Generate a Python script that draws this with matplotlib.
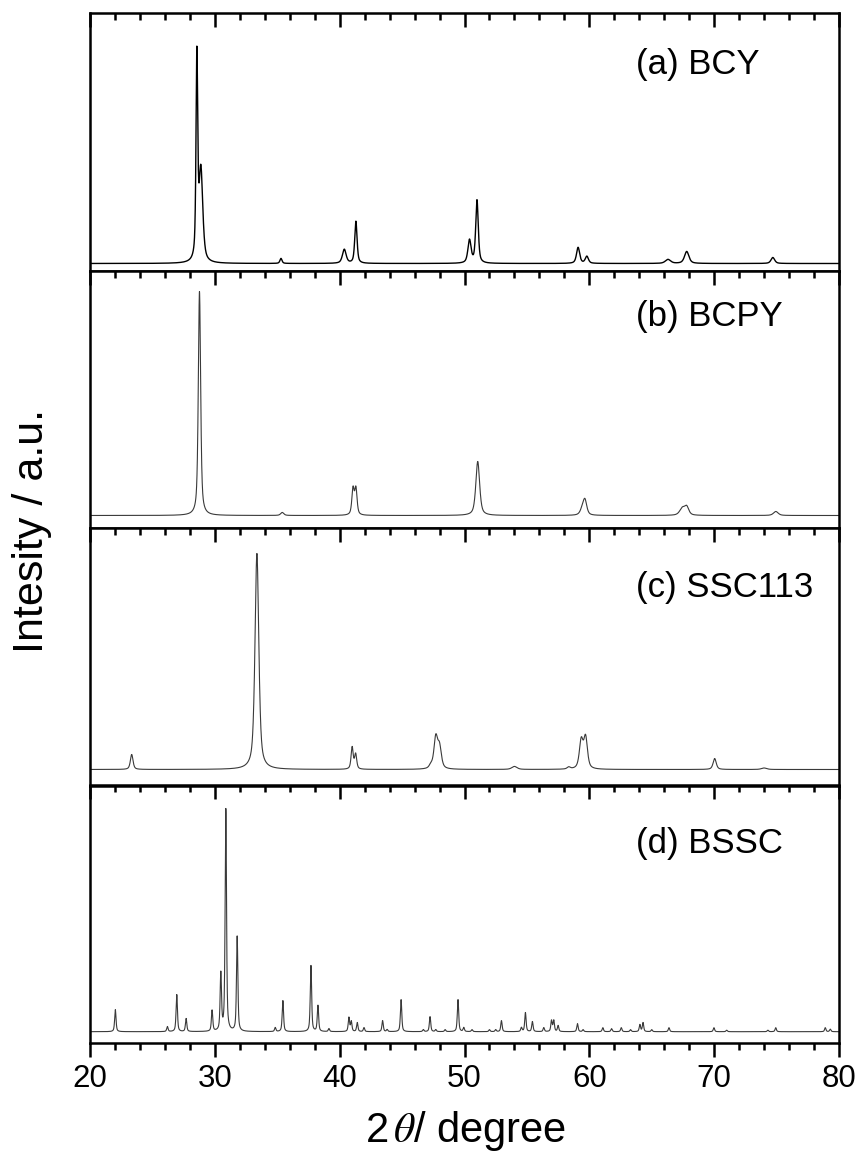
import numpy as np
import matplotlib
matplotlib.use("Agg")
from matplotlib import pyplot as plt
from matplotlib.ticker import MultipleLocator

plt.rcParams["font.family"] = ["Liberation Sans", "DejaVu Sans"]
plt.rcParams["mathtext.fontset"] = "stix"

# Peak lists: 2theta (deg), height (a.u.), FWHM (deg)
bcy_pos = [28.56, 28.88, 35.30, 40.37, 41.30, 50.40, 51.00, 59.10, 59.80, 66.30, 67.80, 74.70]
bcy_h = [200, 92, 5, 14, 42, 23, 63, 16, 7, 4, 12, 6]
bcy_w = [0.16, 0.36, 0.20, 0.35, 0.22, 0.30, 0.24, 0.30, 0.30, 0.50, 0.42, 0.35]

bcpy_pos = [28.77, 35.40, 41.07, 41.30, 51.06, 59.45, 59.65, 67.45, 67.80, 74.94]
bcpy_h = [224, 3, 26, 26, 54, 6, 14, 7, 8, 4]
bcpy_w = [0.22, 0.30, 0.22, 0.22, 0.36, 0.40, 0.35, 0.50, 0.40, 0.45]

ssc_pos = [23.34, 33.37, 41.00, 41.28, 47.30, 47.70, 48.00, 54.00, 58.35, 59.35, 59.70, 70.04, 74.00]
ssc_h = [15, 216, 22, 15, 3, 31, 21, 3, 2, 28, 31, 11, 1.5]
ssc_w = [0.25, 0.36, 0.20, 0.20, 0.30, 0.35, 0.35, 0.50, 0.30, 0.35, 0.35, 0.30, 0.50]

bssc_pos = [22.03, 26.20, 26.95, 27.70, 29.78, 30.48, 30.88, 31.79, 34.84, 35.45,
            37.70, 38.26, 39.14, 40.74, 40.93, 41.41, 41.95, 43.44, 43.80, 44.92,
            46.70, 47.24, 47.70, 48.45, 49.48, 49.94, 50.60, 52.00, 52.50, 52.96,
            54.56, 54.88, 55.44, 56.35, 56.97, 57.15, 57.50, 59.05, 59.50, 61.08,
            61.78, 62.56, 63.30, 64.05, 64.30, 65.00, 66.38, 69.98, 71.00, 74.30,
            74.93, 78.90, 79.30]
bssc_h = [22, 5, 37, 13, 21, 57, 222, 95, 4, 31,
          66, 26, 3, 14, 10, 9, 4, 11, 2, 32,
          2, 15, 2, 2, 32, 4, 2, 2, 2, 11,
          4, 19, 10, 4, 11, 11, 6, 8, 2, 4,
          3, 4, 2, 7, 9, 2, 4, 4, 1.5, 1.5,
          4, 4, 2.5]
bssc_w = [0.13] * len(bssc_pos)

labels = ["(a) BCY", "(b) BCPY", "(c) SSC113", "(d) BSSC"]
label_y = [0.763, 0.784, 0.733, 0.738]
baseline_px = [7, 12.5, 16, 11.3]


def pattern(x, pos, h, w, eta=0.6):
    y = np.zeros_like(x)
    for p, a, f in zip(pos, h, w):
        d = (x - p) / (f / 2)
        lor = 1 / (1 + d ** 2)
        gau = np.exp(-np.log(2) * d ** 2)
        y += a * (eta * lor + (1 - eta) * gau)
    return y


def set_ticks(axis_obj):
    axis_obj.set_major_locator(MultipleLocator(10))
    axis_obj.set_minor_locator(MultipleLocator(2))


x = np.linspace(20, 80, 6001)
curves = [pattern(x, bcy_pos, bcy_h, bcy_w),
          pattern(x, bcpy_pos, bcpy_h, bcpy_w),
          pattern(x, ssc_pos, ssc_h, ssc_w),
          pattern(x, bssc_pos, bssc_h, bssc_w)]
colors = ["black", "#3a3a3a", "#3a3a3a", "#3a3a3a"]
widths = [1.0, 0.8, 0.8, 0.8]

fig = plt.figure(figsize=(8.61, 11.59), dpi=100)
left, width = 90 / 861, 749 / 861
ph = 257.5 / 1159
bottom0 = 116 / 1159

for i in range(4):
    ax = fig.add_axes([left, bottom0 + (3 - i) * ph, width, ph])
    ax.plot(x, curves[i], color=colors[i], lw=widths[i])
    ax.set_xlim(20, 80)
    ax.set_ylim(-baseline_px[i], 257.5 - baseline_px[i])
    ax.set_yticks([])
    set_ticks(ax.xaxis)
    for s in ax.spines.values():
        s.set_linewidth(1.8)
    if i < 3:
        ax.tick_params(axis="x", which="both", direction="in", top=True, bottom=False,
                       labelbottom=False, labeltop=False, width=1.8)
        ax.tick_params(axis="x", which="major", length=10)
        ax.tick_params(axis="x", which="minor", length=5)
    else:
        ax.tick_params(axis="x", which="both", direction="out", top=False, bottom=True,
                       width=1.8, labelsize=22.5, pad=5)
        ax.tick_params(axis="x", which="major", length=10)
        ax.tick_params(axis="x", which="minor", length=5)
        sec = ax.secondary_xaxis("top")
        set_ticks(sec.xaxis)
        sec.spines["top"].set_linewidth(1.8)
        sec.tick_params(axis="x", which="both", direction="in", width=1.8, labeltop=False)
        sec.tick_params(axis="x", which="major", length=10)
        sec.tick_params(axis="x", which="minor", length=5)
    ax.text(0.729, label_y[i], labels[i], transform=ax.transAxes,
            fontsize=25, ha="left", va="baseline")

fig.text(0.541, 0.0147, r"2$\,\theta$/ degree", fontsize=30, ha="center", va="baseline")
fig.text(0.037, 0.542, "Intesity / a.u.", fontsize=31, rotation=90, ha="center", va="center")

plt.savefig("out.png", dpi=100)
